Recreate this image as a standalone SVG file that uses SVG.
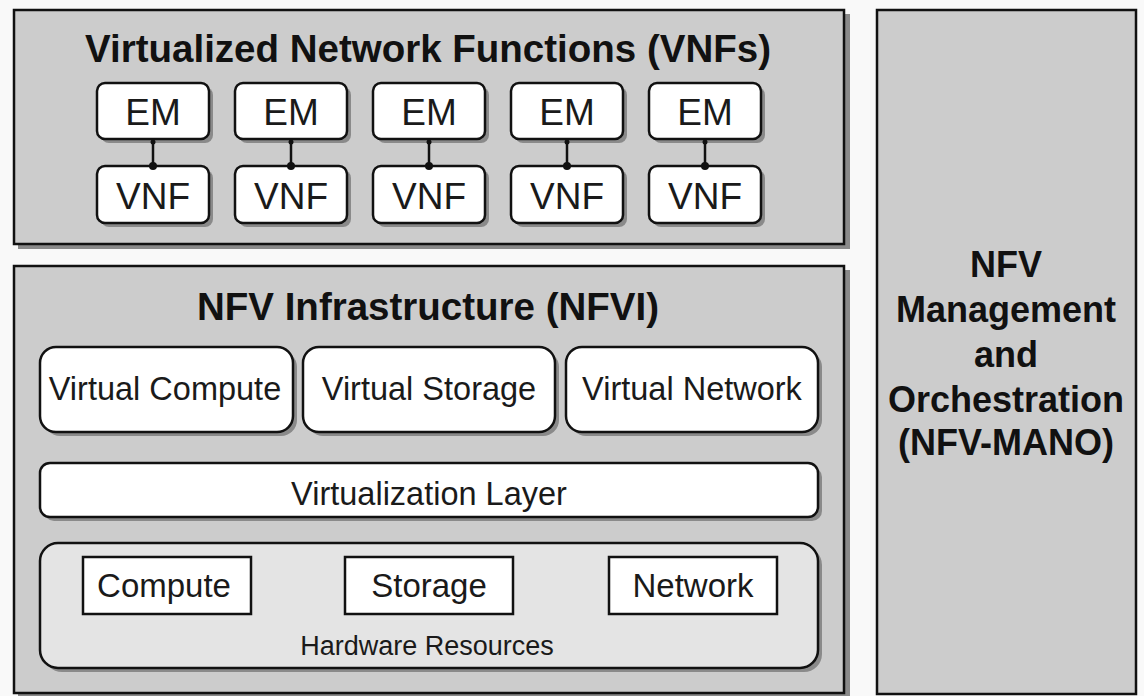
<svg xmlns="http://www.w3.org/2000/svg" width="1144" height="696" viewBox="0 0 1144 696">
  <style>
    .panel { fill: #cccccc; stroke: #111111; stroke-width: 2.5; }
    .shadow { fill: #8a8a8a; }
    .box { fill: #ffffff; stroke: #111111; stroke-width: 2.5; }
    .hw { fill: #e4e4e4; stroke: #111111; stroke-width: 2.5; }
    .title { font-family: "Liberation Sans", Arial, sans-serif; font-weight: bold; font-size: 38.5px; fill: #111111; text-anchor: middle; }
    .mano { font-family: "Liberation Sans", Arial, sans-serif; font-weight: bold; font-size: 36px; fill: #111111; text-anchor: middle; }
    .lbl { font-family: "Liberation Sans", Arial, sans-serif; font-size: 37px; fill: #1a1a1a; text-anchor: middle; }
    .lbl2 { font-family: "Liberation Sans", Arial, sans-serif; font-size: 32.5px; fill: #1a1a1a; text-anchor: middle; }
    .lbl3 { font-family: "Liberation Sans", Arial, sans-serif; font-size: 33px; fill: #1a1a1a; text-anchor: middle; }
    .small { font-family: "Liberation Sans", Arial, sans-serif; font-size: 27px; fill: #1a1a1a; text-anchor: middle; }
    .link { stroke: #111111; stroke-width: 2.5; fill: none; }
    .dot { fill: #111111; }
  </style>

  <rect x="0" y="0" width="1144" height="696" fill="#f9f9f9"/>

  <!-- VNF layer -->
  <g id="vnfs">
    <rect class="shadow" x="18" y="14" width="832" height="235"/>
    <rect class="panel" x="14" y="10" width="830" height="234"/>
    <text class="title" x="428" y="62">Virtualized Network Functions (VNFs)</text>
  </g>

  <g id="em1"><rect class="shadow" x="101" y="87" width="112" height="56" rx="8"/><rect class="box" x="97" y="83" width="112" height="56" rx="8"/><text class="lbl" x="153" y="125">EM</text></g>
  <g id="em2"><rect class="shadow" x="239" y="87" width="112" height="56" rx="8"/><rect class="box" x="235" y="83" width="112" height="56" rx="8"/><text class="lbl" x="291" y="125">EM</text></g>
  <g id="em3"><rect class="shadow" x="377" y="87" width="112" height="56" rx="8"/><rect class="box" x="373" y="83" width="112" height="56" rx="8"/><text class="lbl" x="429" y="125">EM</text></g>
  <g id="em4"><rect class="shadow" x="515" y="87" width="112" height="56" rx="8"/><rect class="box" x="511" y="83" width="112" height="56" rx="8"/><text class="lbl" x="567" y="125">EM</text></g>
  <g id="em5"><rect class="shadow" x="653" y="87" width="112" height="56" rx="8"/><rect class="box" x="649" y="83" width="112" height="56" rx="8"/><text class="lbl" x="705" y="125">EM</text></g>

  <g id="vnf1"><rect class="shadow" x="101" y="170" width="112" height="57" rx="8"/><rect class="box" x="97" y="166" width="112" height="57" rx="8"/><text class="lbl" x="153" y="209">VNF</text></g>
  <g id="vnf2"><rect class="shadow" x="239" y="170" width="112" height="57" rx="8"/><rect class="box" x="235" y="166" width="112" height="57" rx="8"/><text class="lbl" x="291" y="209">VNF</text></g>
  <g id="vnf3"><rect class="shadow" x="377" y="170" width="112" height="57" rx="8"/><rect class="box" x="373" y="166" width="112" height="57" rx="8"/><text class="lbl" x="429" y="209">VNF</text></g>
  <g id="vnf4"><rect class="shadow" x="515" y="170" width="112" height="57" rx="8"/><rect class="box" x="511" y="166" width="112" height="57" rx="8"/><text class="lbl" x="567" y="209">VNF</text></g>
  <g id="vnf5"><rect class="shadow" x="653" y="170" width="112" height="57" rx="8"/><rect class="box" x="649" y="166" width="112" height="57" rx="8"/><text class="lbl" x="705" y="209">VNF</text></g>

  <!-- EM to VNF links -->
  <g id="connectors">
    <line class="link" x1="153" y1="140" x2="153" y2="166"/><circle class="dot" cx="153" cy="142" r="2.5"/><circle class="dot" cx="153" cy="166" r="4"/>
    <line class="link" x1="291" y1="140" x2="291" y2="166"/><circle class="dot" cx="291" cy="142" r="2.5"/><circle class="dot" cx="291" cy="166" r="4"/>
    <line class="link" x1="429" y1="140" x2="429" y2="166"/><circle class="dot" cx="429" cy="142" r="2.5"/><circle class="dot" cx="429" cy="166" r="4"/>
    <line class="link" x1="567" y1="140" x2="567" y2="166"/><circle class="dot" cx="567" cy="142" r="2.5"/><circle class="dot" cx="567" cy="166" r="4"/>
    <line class="link" x1="705" y1="140" x2="705" y2="166"/><circle class="dot" cx="705" cy="142" r="2.5"/><circle class="dot" cx="705" cy="166" r="4"/>
  </g>

  <!-- NFV infrastructure -->
  <g id="nfvi">
    <rect class="shadow" x="18" y="270" width="832" height="428"/>
    <rect class="panel" x="14" y="266" width="830" height="427"/>
    <text class="title" x="428" y="320">NFV Infrastructure (NFVI)</text>
  </g>

  <g id="virtual-compute"><rect class="shadow" x="44" y="351" width="253" height="85" rx="16"/><rect class="box" x="40" y="347" width="253" height="85" rx="16"/><text class="lbl2" x="165" y="400">Virtual Compute</text></g>
  <g id="virtual-storage"><rect class="shadow" x="307" y="351" width="252" height="85" rx="16"/><rect class="box" x="303" y="347" width="252" height="85" rx="16"/><text class="lbl2" x="429" y="400">Virtual Storage</text></g>
  <g id="virtual-network"><rect class="shadow" x="570" y="351" width="252" height="85" rx="16"/><rect class="box" x="566" y="347" width="252" height="85" rx="16"/><text class="lbl2" x="692" y="400">Virtual Network</text></g>

  <g id="virtualization-layer"><rect class="shadow" x="44" y="467" width="778" height="54" rx="10"/><rect class="box" x="40" y="463" width="778" height="54" rx="10"/><text class="lbl2" x="429" y="505">Virtualization Layer</text></g>

  <g id="hardware-resources">
    <rect class="shadow" x="44" y="547" width="778" height="125" rx="18"/>
    <rect class="hw" x="40" y="543" width="778" height="125" rx="18"/>
    <text class="small" x="427" y="655">Hardware Resources</text>
  </g>
  <g id="compute"><rect class="box" x="83" y="557" width="168" height="57"/><text class="lbl3" x="164" y="597">Compute</text></g>
  <g id="storage"><rect class="box" x="345" y="557" width="168" height="57"/><text class="lbl3" x="429" y="597">Storage</text></g>
  <g id="network"><rect class="box" x="609" y="557" width="168" height="57"/><text class="lbl3" x="693" y="597">Network</text></g>

  <!-- Management and orchestration -->
  <g id="nfv-mano">
    <rect class="panel" x="877" y="10" width="259" height="684"/>
    <text class="mano" x="1006" y="277">NFV</text>
    <text class="mano" x="1006" y="322">Management</text>
    <text class="mano" x="1006" y="367">and</text>
    <text class="mano" x="1006" y="412">Orchestration</text>
    <text class="mano" x="1006" y="455">(NFV-MANO)</text>
  </g>
</svg>
